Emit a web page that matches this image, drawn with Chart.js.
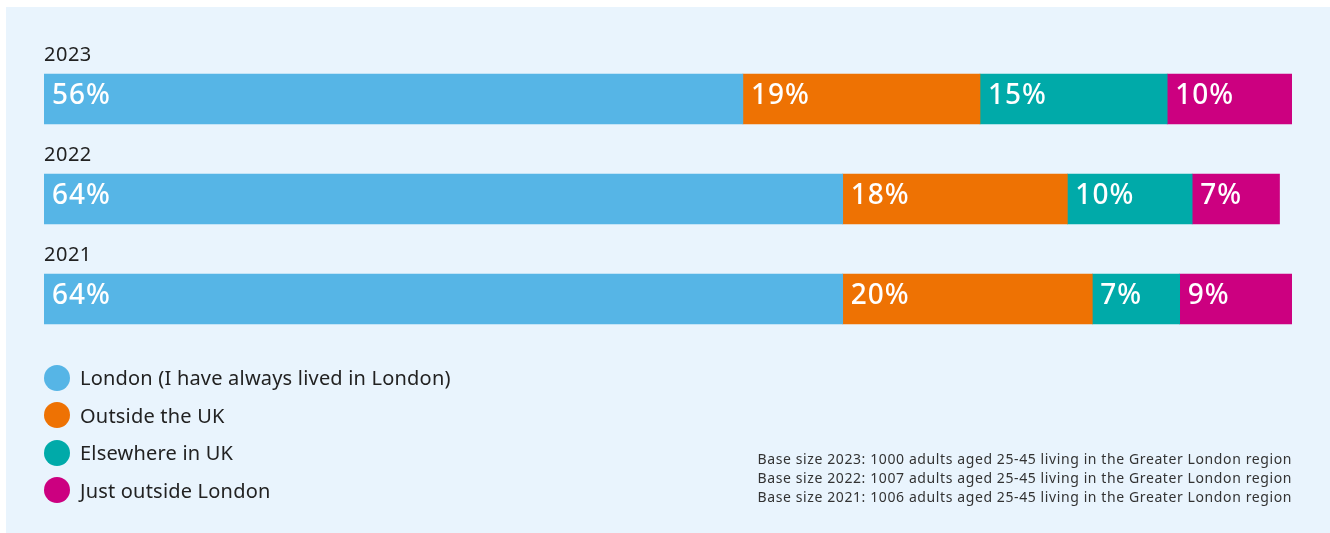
<!DOCTYPE html>
<html>
<head>
<meta charset="utf-8">
<script src="https://cdn.jsdelivr.net/npm/chart.js@4"></script>
<style>
  html, body { margin: 0; padding: 0; background: #fff; }
  #panel {
    position: absolute; left: 6px; top: 7px; width: 1324px; height: 526px;
    background: #E9F4FD;
  }
  #chart-wrap { position: absolute; left: 0; top: 0; width: 1324px; height: 526px; }
  #legend {
    position: absolute; left: 38px; top: 352px; margin: 0; padding: 0; list-style: none;
    font-family: 'Noto Sans', sans-serif; font-size: 20px; letter-spacing: 0.2px; color: #222;
  }
  #legend li { display: flex; align-items: center; height: 37.5px; }
  #legend .dot { width: 26px; height: 26px; border-radius: 50%; margin-right: 10px; }
  #notes {
    position: absolute; right: 38px; top: 442px; text-align: right;
    font-family: 'Noto Sans', sans-serif; font-size: 14px; letter-spacing: 0.6px;
    line-height: 19px; color: #333;
  }
</style>
</head>
<body>
<div id="panel">
  <div id="chart-wrap"><canvas id="origin-chart"></canvas></div>
  <ul id="legend"></ul>
  <div id="notes"></div>
</div>
<script>
// Where respondents grew up, per survey year (% of respondents)
const YEARS = ['2023', '2022', '2021'];
const SERIES = [
  'London (I have always lived in London)',
  'Outside the UK',
  'Elsewhere in UK',
  'Just outside London',
];
const LONDON = [56, 64, 64];
const OUTSIDE_UK = [19, 18, 20];
const ELSEWHERE_UK = [15, 10, 7];
const JUST_OUTSIDE = [10, 7, 9];
const NOTES = [
  'Base size 2023: 1000 adults aged 25-45 living in the Greater London region',
  'Base size 2022: 1007 adults aged 25-45 living in the Greater London region',
  'Base size 2021: 1006 adults aged 25-45 living in the Greater London region',
];

const COLORS = ['#56B5E6', '#EE7203', '#00AAA9', '#CC0080'];
const VALUES = [LONDON, OUTSIDE_UK, ELSEWHERE_UK, JUST_OUTSIDE];

// Percent text inside each segment, plus the year caption above each bar
const barText = {
  id: 'barText',
  afterDatasetsDraw(chart) {
    const ctx = chart.ctx;
    ctx.save();
    ctx.textBaseline = 'middle';
    ctx.textAlign = 'left';
    ctx.fillStyle = '#fff';
    ctx.font = '500 28px "Noto Sans", sans-serif';
    ctx.letterSpacing = '1px';
    chart.data.datasets.forEach((ds, i) => {
      chart.getDatasetMeta(i).data.forEach((bar, j) => {
        const left = Math.min(bar.x, bar.base);
        ctx.fillText(ds.data[j] + '%', left + 8, bar.y - 3);
      });
    });

    const y = chart.scales.y;
    ctx.fillStyle = '#222';
    ctx.font = '20px "Noto Sans", sans-serif';
    ctx.letterSpacing = '0.5px';
    ctx.textBaseline = 'alphabetic';
    chart.data.labels.forEach((lab, j) => {
      ctx.fillText(lab, chart.chartArea.left, y.getPixelForValue(j) - 38);
    });
    ctx.restore();
  },
};

const chart = new Chart(document.getElementById('origin-chart'), {
  type: 'bar',
  data: {
    labels: YEARS,
    datasets: SERIES.map((name, i) => ({
      label: name,
      data: VALUES[i],
      backgroundColor: COLORS[i],
      borderWidth: 0,
      barThickness: 50,
    })),
  },
  options: {
    indexAxis: 'y',
    responsive: true,
    maintainAspectRatio: false,
    animation: false,
    layout: { padding: { left: 38, right: 38, top: 42, bottom: 184 } },
    plugins: {
      legend: { display: false },
      tooltip: { enabled: false },
    },
    scales: {
      x: { stacked: true, min: 0, max: 100, display: false },
      y: { stacked: true, display: false },
    },
  },
  plugins: [barText],
});

// Legend list built from the chart's datasets
const legendEl = document.getElementById('legend');
chart.data.datasets.forEach(ds => {
  const li = document.createElement('li');
  const dot = document.createElement('span');
  dot.className = 'dot';
  dot.style.background = ds.backgroundColor;
  li.appendChild(dot);
  li.appendChild(document.createTextNode(ds.label));
  legendEl.appendChild(li);
});

document.getElementById('notes').innerHTML = NOTES.map(t => '<div>' + t + '</div>').join('');
</script>
</body>
</html>
